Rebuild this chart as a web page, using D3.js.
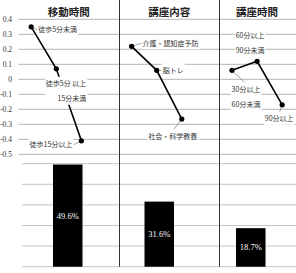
<!DOCTYPE html>
<html>
<head>
<meta charset="utf-8">
<script src="https://cdn.jsdelivr.net/npm/d3@7"></script>
<style>
  html, body { margin: 0; padding: 0; background: #fff; }
  svg { display: block; }
</style>
</head>
<body>
<div id="chart"></div>
<script>
// ------- data -------
const groups = ["移動時間", "講座内容", "講座時間"];
const categories = [
  [["徒歩5分未満"], ["徒歩5分 以上", "15分未満"], ["徒歩15分以上"]],
  [["介護・認知症予防"], ["脳トレ"], ["社会・科学教養"]],
  [["30分以上", "60分未満"], ["60分以上", "90分未満"], ["90分以上"]]
];
const effects = [
  [0.35, 0.07, -0.41],
  [0.22, 0.06, -0.265],
  [0.06, 0.12, -0.17]
];
const shares = [49.6, 31.6, 18.7];
const effectTicks = [0.4, 0.3, 0.2, 0.1, 0, -0.1, -0.2, -0.3, -0.4, -0.5];
const shareTicks = [0, 10, 20, 30, 40, 50];

// label placement (offset from the point, layout only)
const labelLayout = [
  [{dx: 7, dy: 3, anchor: "start", lead: true}, {dx: 30, dy: 15, anchor: "end"}, {dx: -9, dy: 4, anchor: "end", lead: true}],
  [{dx: 11, dy: -3, anchor: "start", lead: true}, {dx: 6, dy: 0, anchor: "start", lead: true}, {dx: -9, dy: 17, anchor: "middle", lead: true}],
  [{dx: 14, dy: 19, anchor: "middle", lead: true}, {dx: -7, dy: -26, anchor: "middle"}, {dx: -3, dy: 14, anchor: "middle", lead: true}]
];

(() => {
  const W = 296, H = 273;
  const svg = d3.select("#chart").append("svg")
    .attr("width", W).attr("height", H)
    .attr("viewBox", `0 0 ${W} ${H}`);

  const cjk = "'Noto Sans CJK JP', 'Noto Sans', sans-serif";

  // slots: 3 points per group, one empty slot between groups
  const slots = [];
  groups.forEach((g, gi) => {
    [0, 1, 2].forEach(ci => slots.push(`${gi}-${ci}`));
    if (gi < groups.length - 1) slots.push(`gap${gi}`);
  });

  const x = d3.scalePoint().domain(slots).range([31.2, 282.2]);
  const step = x.step();
  const y = d3.scaleLinear().domain([-0.5, 0.4]).range([154.3, 19.3]);

  const xb = d3.scalePoint().domain(groups).range([22, 296.5]).padding(0.5);
  const yb = d3.scaleLinear().domain([0, 50]).range([266.7, 163.7]);
  const barW = 29.5;

  // gridlines (top)
  svg.append("g").selectAll("line")
    .data(effectTicks).join("line")
    .attr("x1", 18.5).attr("x2", W)
    .attr("y1", d => y(d)).attr("y2", d => y(d))
    .attr("stroke", "#b4b4b4").attr("stroke-width", 1);

  // y tick labels (top)
  svg.append("g").selectAll("text")
    .data(effectTicks).join("text")
    .attr("x", 12).attr("y", d => y(d) + 2.7)
    .attr("text-anchor", "end")
    .attr("font-family", "'Liberation Serif', serif")
    .attr("font-size", 7.5)
    .attr("fill", "#333")
    .text(d => String(d));

  // gridlines (bottom)
  svg.append("g").selectAll("line")
    .data(shareTicks).join("line")
    .attr("x1", 22).attr("x2", W)
    .attr("y1", d => yb(d)).attr("y2", d => yb(d))
    .attr("stroke", "#c4c4c4").attr("stroke-width", 1);

  // panel dividers
  const dividers = groups.slice(1).map((g, i) => x(`gap${i}`) + step / 2);
  svg.append("g").selectAll("line")
    .data(dividers).join("line")
    .attr("x1", d => Math.round(d) + 0.5).attr("x2", d => Math.round(d) + 0.5)
    .attr("y1", 0).attr("y2", yb(0))
    .attr("stroke", "#333").attr("stroke-width", 1);

  // titles
  const bounds = [18.5, ...dividers, x(`2-2`) + step / 2];
  svg.append("g").selectAll("text")
    .data(groups).join("text")
    .attr("x", (d, i) => (bounds[i] + bounds[i + 1]) / 2)
    .attr("y", 16)
    .attr("text-anchor", "middle")
    .attr("font-family", cjk)
    .attr("font-weight", "bold")
    .attr("font-size", 10.5)
    .attr("fill", "#222")
    .text(d => d);

  // bars
  svg.append("g").selectAll("rect")
    .data(shares).join("rect")
    .attr("x", (d, i) => xb(groups[i]) - barW / 2)
    .attr("width", barW)
    .attr("y", d => yb(d))
    .attr("height", d => yb(0) - yb(d))
    .attr("fill", "#000");

  svg.append("g").selectAll("text")
    .data(shares).join("text")
    .attr("x", (d, i) => xb(groups[i]))
    .attr("y", d => (yb(d) + yb(0)) / 2 + 3)
    .attr("text-anchor", "middle")
    .attr("font-family", "'Liberation Serif', serif")
    .attr("font-size", 8.5)
    .attr("fill", "#fff")
    .text(d => d.toFixed(1) + "%");

  // lines and points
  const line = d3.line().x(d => d.x).y(d => d.y);
  const pts = effects.map((vals, gi) => vals.map((v, ci) => ({
    x: x(`${gi}-${ci}`), y: y(v), gi, ci
  })));

  const lineG = svg.append("g");
  pts.forEach(p => {
    lineG.append("path")
      .attr("d", line(p))
      .attr("fill", "none")
      .attr("stroke", "#000")
      .attr("stroke-width", 1.6);
  });

  // labels (white box hides the line behind)
  const labG = svg.append("g");
  pts.flat().forEach(p => {
    const lay = labelLayout[p.gi][p.ci];
    const lines = categories[p.gi][p.ci];
    const tx = p.x + lay.dx, ty = p.y + lay.dy;
    const g = labG.append("g");
    const bg = g.append("rect").attr("fill", "#fff");
    const t = g.append("text")
      .attr("text-anchor", lay.anchor)
      .attr("font-family", cjk)
      .attr("font-size", 7)
      .attr("fill", "#333");
    lines.forEach((s, k) => {
      t.append("tspan").attr("x", tx).attr("y", ty + 2.5 + k * 15).text(s);
    });
    const bb = t.node().getBBox();
    bg.attr("x", bb.x - 1).attr("y", bb.y - 1.5)
      .attr("width", bb.width + 2).attr("height", bb.height + 3);
    if (lay.lead) {
      let lx = lay.anchor === "start" ? bb.x - 1 : lay.anchor === "end" ? bb.x + bb.width + 1 : bb.x + bb.width / 2;
      let ly = lay.anchor === "middle" ? (lay.dy > 0 ? bb.y : bb.y + bb.height) : ty;
      g.insert("line", "rect")
        .attr("x1", p.x).attr("y1", p.y)
        .attr("x2", lx).attr("y2", ly)
        .attr("stroke", "#777").attr("stroke-width", 0.7);
    }
  });

  // markers on top
  svg.append("g").selectAll("circle")
    .data(pts.flat()).join("circle")
    .attr("cx", d => d.x).attr("cy", d => d.y)
    .attr("r", 2.6)
    .attr("fill", "#000");
})();
</script>
</body>
</html>
